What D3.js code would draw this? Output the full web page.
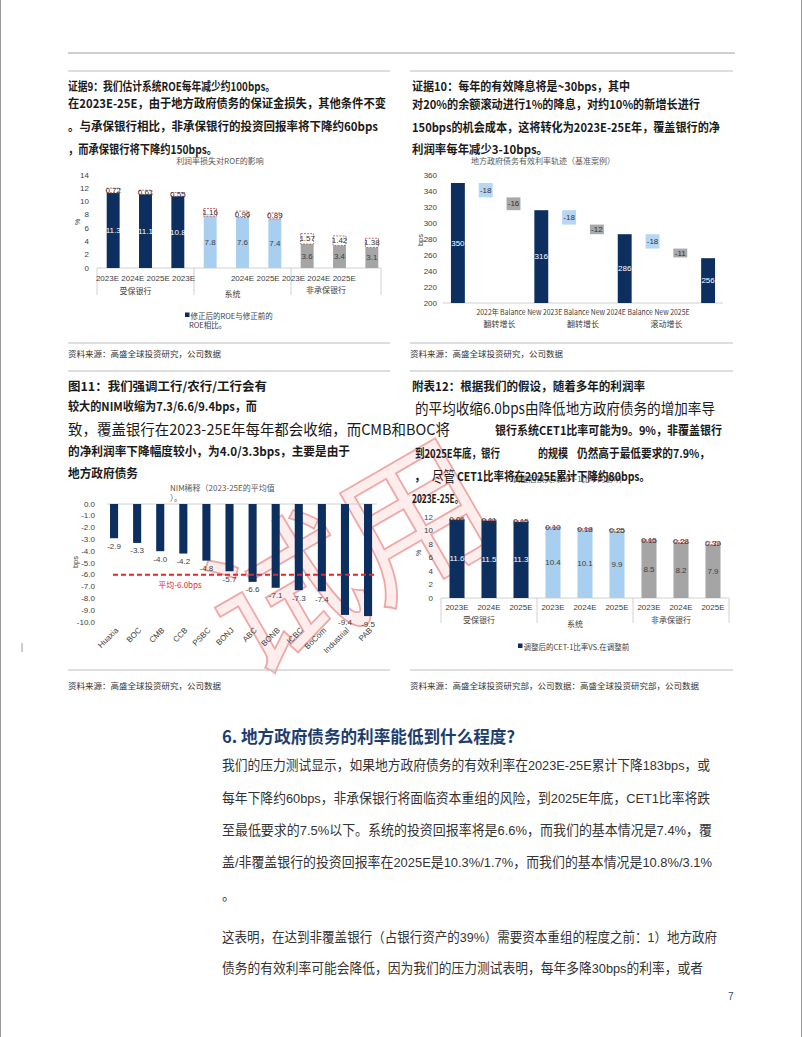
<!DOCTYPE html>
<html>
<head>
<meta charset="utf-8">
<script src="https://cdn.jsdelivr.net/npm/d3@7"></script>
<style>
  body { margin: 0; background: #fff; }
  svg { display: block; }
</style>
</head>
<body>
<script>
// ---- chart data ----
const groups = ["受保银行", "系统", "非承保银行"];
const years = ["2023E", "2024E", "2025E", "2023E", "2024E", "2025E", "2023E", "2024E", "2025E"];

// ROE impact (%)
const roeAdjusted = [11.3, 11.1, 10.8, 7.8, 7.6, 7.4, 3.6, 3.4, 3.1];
const roeLoss = [0.72, 0.61, 0.55, 1.16, 0.96, 0.89, 1.57, 1.42, 1.38];

// effective rate waterfall (bps)
const rateCats = ["2022年", "Balance", "New", "2023E", "Balance", "New", "2024E", "Balance", "New", "2025E"];
const rateValues = [350, -18, -16, 316, -18, -12, 286, -18, -11, 256];
const rateKinds = ["total", "balance", "new", "total", "balance", "new", "total", "balance", "new", "total"];
const rateGroups = ["翻转增长", "翻转增长", "滚动增长"];

// NIM dilution (bps)
const nimBanks = ["Huaxia", "BOC", "CMB", "CCB", "PSBC", "BONJ", "ABC", "BONB", "ICBC", "BoCom", "Industrial", "PAB"];
const nimValues = [-2.9, -3.3, -4.0, -4.2, -4.8, -5.7, -6.6, -7.1, -7.3, -7.4, -9.4, -9.5];
const nimAverage = -6.0;

// CET-1 impact (%)
const cetAdjusted = [11.6, 11.5, 11.3, 10.4, 10.1, 9.9, 8.5, 8.2, 7.9];
const cetLoss = [0.06, 0.11, 0.15, 0.10, 0.18, 0.25, 0.15, 0.28, 0.39];

const NAVY = "#0c2f5f", LIGHT = "#a9cff0", GREY = "#a5a5a5";
const groupColor = [NAVY, LIGHT, GREY];
const CJK = "'Noto Sans CJK SC', sans-serif";
const LAT = "'Liberation Sans', 'Noto Sans CJK SC', sans-serif";

const svg = d3.select("body").append("svg")
    .attr("width", 802).attr("height", 1037)
    .style("font-family", LAT);

function label(g, x, y, str, o = {}) {
  const t = g.append("text")
      .attr("x", x).attr("y", y)
      .attr("dominant-baseline", "central")
      .attr("font-size", o.size || 8)
      .attr("fill", o.fill || "#404040")
      .attr("text-anchor", o.anchor || "start")
      .text(str);
  if (o.bold) t.attr("font-weight", "bold");
  if (o.width) t.attr("textLength", o.width).attr("lengthAdjust", "spacingAndGlyphs");
  if (o.family) t.style("font-family", o.family);
  return t;
}

function rule(x1, x2, y, color = "#bdbdbd") {
  svg.append("line").attr("x1", x1).attr("x2", x2).attr("y1", y).attr("y2", y)
      .attr("stroke", color).attr("stroke-width", 1);
}

// ---- watermark (behind everything) ----
svg.append("text")
    .attr("transform", "translate(345,548) rotate(-30)")
    .attr("text-anchor", "middle").attr("dominant-baseline", "central")
    .style("font-family", CJK).attr("font-size", 150)
    .attr("fill", "#fbdede").attr("fill-opacity", 0.55)
    .attr("stroke", "#e04848").attr("stroke-width", 1.8).attr("stroke-opacity", 0.45)
    .text("试用");

// page frame + rules
svg.append("line").attr("x1", 0.5).attr("x2", 0.5).attr("y1", 0).attr("y2", 1037).attr("stroke", "#9a9a9a");
svg.append("line").attr("x1", 801.5).attr("x2", 801.5).attr("y1", 0).attr("y2", 1037).attr("stroke", "#9a9a9a");
rule(68, 735, 53, "#a0a0a0");
[71, 343, 371, 670].forEach(y => { rule(68, 390, y); rule(410, 733, y); });
svg.append("line").attr("x1", 22).attr("x2", 22).attr("y1", 643).attr("y2", 652).attr("stroke", "#999");

// ---- titles ----
const T = svg.append("g");
const bold = (x, y, s, w) => label(T, x, y, s, {size: 12, bold: true, fill: "#1a1a1a", family: CJK, width: w});
const big = (x, y, s, w) => label(T, x, y, s, {size: 15, fill: "#1a1a1a", family: CJK, width: w});

bold(68, 85, "证据9：我们估计系统ROE每年减少约100bps。", 207);
bold(68, 102, "在2023E-25E，由于地方政府债务的保证金损失，其他条件不变", 318);
bold(68, 125, "。与承保银行相比，非承保银行的投资回报率将下降约60bps", 310);
bold(68, 148, "，而承保银行将下降约150bps。", 149);

bold(412, 85, "证据10：每年的有效降息将是~30bps，其中", 218);
bold(412, 103, "对20%的余额滚动进行1%的降息，对约10%的新增长进行", 288);
bold(412, 126, "150bps的机会成本，这将转化为2023E-25E年，覆盖银行的净", 308);
bold(412, 148, "利润率每年减少3-10bps。", 136);

bold(68, 385, "图11：我们强调工行/农行/工行会有", 199);
bold(68, 405, "较大的NIM收缩为7.3/6.6/9.4bps，而", 189);
big(68, 428, "致，覆盖银行在2023-25E年每年都会收缩，而CMB和BOC将", 382);
bold(68, 450, "的净利润率下降幅度较小，为4.0/3.3bps，主要是由于", 282);
bold(68, 472, "地方政府债务", 70);

bold(412, 385, "附表12：根据我们的假设，随着多年的利润率", 233);
big(415, 407, "的平均收缩6.0bps由降低地方政府债务的增加率导", 300);
bold(495, 429, "银行系统CET1比率可能为9。9%，非覆盖银行", 227);
bold(415, 452, "到2025E年底，银行", 85);
bold(538, 452, "的规模", 30);
bold(577, 452, "仍然高于最低要求的7.9%，", 133);
label(T, 567, 478, "调整后损失对CET-1比率的影响", {size: 8, anchor: "middle", fill: "#595959", family: CJK});
bold(414, 475, "，");
big(432, 475, "尽管", 23);
bold(457, 475, "CET1比率将在2025E累计下降约80bps。", 193);
bold(412, 497, "2023E-25E。", 51);

// ---- stacked bar charts (ROE / CET-1) ----
function lossChart(o) {
  const g = svg.append("g");
  const x = d3.scaleBand().domain(d3.range(o.adj.length)).range(o.xr)
      .paddingInner(o.pad).paddingOuter(o.pad / 2);
  const y = d3.scaleLinear().domain([0, o.max]).range(o.yr);
  const gi = i => Math.floor(i / 3);

  if (o.title) label(g, o.title[0], o.title[1], o.title[2], {size: 8, anchor: "middle", fill: "#595959", family: CJK});

  y.ticks(o.max / 2).forEach(t => label(g, o.xr[0] - 8, y(t), t, {anchor: "end"}));
  label(g, 0, 0, "%", {size: 7}).attr("transform", `translate(${o.unitX},${o.unitY}) rotate(-90)`)
      .attr("text-anchor", "middle");

  g.append("line").attr("x1", o.xr[0]).attr("x2", o.axisEnd).attr("y1", y(0)).attr("y2", y(0))
      .attr("stroke", "#d0d0d0");
  // group separators
  const seps = [o.xr[0], (x(2) + x.bandwidth() + x(3)) / 2, (x(5) + x.bandwidth() + x(6)) / 2, o.axisEnd];
  seps.forEach(s => g.append("line").attr("x1", s).attr("x2", s)
      .attr("y1", y(0)).attr("y2", y(0) + o.sepLen).attr("stroke", "#d0d0d0"));

  g.selectAll("rect.bar").data(o.adj).join("rect").attr("class", "bar")
      .attr("x", (d, i) => x(i)).attr("width", x.bandwidth())
      .attr("y", d => y(d)).attr("height", d => y(0) - y(d))
      .attr("fill", (d, i) => groupColor[gi(i)]);

  g.selectAll("rect.loss").data(o.loss).join("rect").attr("class", "loss")
      .attr("x", (d, i) => x(i)).attr("width", x.bandwidth())
      .attr("y", (d, i) => y(o.adj[i] + d)).attr("height", (d, i) => y(o.adj[i]) - y(o.adj[i] + d))
      .attr("fill", "#fff").attr("stroke", "#b4424f").attr("stroke-width", 0.8)
      .attr("stroke-dasharray", "2,1.2");

  o.adj.forEach((d, i) => {
    const cx = x(i) + x.bandwidth() / 2;
    label(g, cx, y(d / 2), d.toFixed(1), {anchor: "middle", fill: gi(i) === 0 ? "#fff" : "#404040"});
    label(g, cx, (y(d) + y(d + o.loss[i])) / 2, o.loss[i].toFixed(2), {anchor: "middle", fill: "#333"});
  });

  o.xLabels(g, x);
  groups.forEach((s, k) => label(g, (seps[k] + seps[k + 1]) / 2 - 10, y(0) + o.groupDy[k], s,
      {anchor: "middle", family: CJK}));

  g.append("rect").attr("x", o.legend[0]).attr("y", o.legend[1] - 2.5).attr("width", 4.5).attr("height", 4.5)
      .attr("fill", NAVY);
  o.legend[2].forEach((s, k) => label(g, o.legend[0] + (k ? 4 : 5.5), o.legend[1] + k * 9, s,
      {size: 7.5, family: CJK, fill: "#404040"}));
}

lossChart({
  adj: roeAdjusted, loss: roeLoss, max: 14,
  xr: [97, 388], yr: [268, 175], pad: 0.6, axisEnd: 381, sepLen: 27,
  title: [220, 160, "利润率损失对ROE的影响"], unitX: 77, unitY: 222,
  groupDy: [22, 25, 21],
  legend: [185, 315, ["修正后的ROE与修正前的", "ROE相比。"]],
  xLabels: (g, x) => {
    const c = i => x(i) + x.bandwidth() / 2;
    label(g, c(1), 278, years.slice(0, 4).join(" "), {anchor: "middle"});
    label(g, c(4), 278, years[4], {anchor: "middle"});
    label(g, c(6) - 1, 278, years.slice(5).join(" "), {anchor: "middle"});
  }
});

lossChart({
  adj: cetAdjusted, loss: cetLoss, max: 12,
  xr: [441, 729], yr: [598, 517], pad: 0.53, axisEnd: 729, sepLen: 25,
  title: null, unitX: 418, unitY: 553,
  groupDy: [21, 25, 21],
  legend: [518, 646, ["调整后的CET-1比率VS.在调整前"]],
  xLabels: (g, x) => years.forEach((s, i) =>
      label(g, x(i) + x.bandwidth() / 2, 607, s, {anchor: "middle"}))
});

// ---- waterfall chart ----
{
  const g = svg.append("g");
  const x = d3.scaleBand().domain(d3.range(rateCats.length)).range([444, 722]).paddingInner(0.5).paddingOuter(0.25);
  const y = d3.scaleLinear().domain([200, 360]).range([303, 175]);
  label(g, 543, 160, "地方政府债务有效利率轨迹（基准案例）", {anchor: "middle", fill: "#595959", family: CJK});
  y.ticks(8).forEach(t => label(g, 437, y(t), t, {anchor: "end"}));
  label(g, 0, 0, "bps", {size: 7.5}).attr("transform", "translate(420,240) rotate(-90)").attr("text-anchor", "middle");
  g.append("line").attr("x1", 443).attr("x2", 723).attr("y1", y(200)).attr("y2", y(200)).attr("stroke", "#d0d0d0");

  let level = 0;
  rateValues.forEach((v, i) => {
    const cx = x(i) + x.bandwidth() / 2;
    if (rateKinds[i] === "total") {
      level = v;
      g.append("rect").attr("x", x(i)).attr("width", x.bandwidth())
          .attr("y", y(v)).attr("height", y(200) - y(v)).attr("fill", NAVY);
      label(g, cx, y((v + 200) / 2), v, {anchor: "middle", fill: "#fff"});
    } else {
      const top = level, bot = level + v;
      g.append("rect").attr("x", x(i)).attr("width", x.bandwidth())
          .attr("y", y(top)).attr("height", y(bot) - y(top))
          .attr("fill", rateKinds[i] === "balance" ? "#b5d7f3" : "#a8a8a8");
      label(g, cx, y((top + bot) / 2), v, {anchor: "middle", fill: "#333"});
      level = bot;
    }
  });
  label(g, 583, 311, rateCats.join(" "), {anchor: "middle", family: CJK, width: 213});
  rateGroups.forEach((s, k) => {
    const cx = (x(1 + 3 * k) + x(2 + 3 * k) + x.bandwidth()) / 2;
    label(g, cx, 323, s, {anchor: "middle", family: CJK});
  });
}

// ---- NIM dilution chart ----
{
  const g = svg.append("g");
  const x = d3.scaleBand().domain(nimBanks).range([102.5, 379.6]).paddingInner(0.65).paddingOuter(0.325);
  const y = d3.scaleLinear().domain([0, -10]).range([504, 622]);
  label(g, 170, 487, "NIM稀释（2023-25E的平均值", {fill: "#595959", family: CJK});
  label(g, 170, 497, "）。", {fill: "#595959", family: CJK});
  y.ticks(10).forEach(t => label(g, 95, y(t), t.toFixed(1), {anchor: "end"}));
  label(g, 0, 0, "bps", {size: 7.5}).attr("transform", "translate(75,562) rotate(-90)").attr("text-anchor", "middle");
  g.append("line").attr("x1", 107).attr("x2", 377).attr("y1", y(0)).attr("y2", y(0)).attr("stroke", "#d0d0d0");

  g.selectAll("rect").data(nimValues).join("rect")
      .attr("x", (d, i) => x(nimBanks[i])).attr("width", x.bandwidth())
      .attr("y", y(0)).attr("height", d => y(d) - y(0)).attr("fill", NAVY);

  g.append("line").attr("x1", 113).attr("x2", 377).attr("y1", y(nimAverage)).attr("y2", y(nimAverage))
      .attr("stroke", "#e3262b").attr("stroke-width", 2).attr("stroke-dasharray", "5,3");
  label(g, 180, y(nimAverage) + 10, `平均${nimAverage.toFixed(1)}bps`, {anchor: "middle", fill: "#e3262b", family: CJK});

  nimValues.forEach((v, i) => {
    const cx = x(nimBanks[i]) + x.bandwidth() / 2;
    label(g, cx, y(v) + 8, v.toFixed(1), {anchor: "middle"});
    label(g, 0, 0, nimBanks[i], {anchor: "end"})
        .attr("transform", `translate(${cx + 3},${629}) rotate(-45)`);
  });
}

// ---- sources ----
label(svg, 68, 353, "资料来源：高盛全球投资研究，公司数据", {size: 8.5, family: CJK, fill: "#333"});
label(svg, 410, 353, "资料来源：高盛全球投资研究，公司数据", {size: 8.5, family: CJK, fill: "#333"});
label(svg, 68, 685, "资料来源：高盛全球投资研究，公司数据", {size: 8.5, family: CJK, fill: "#333"});
label(svg, 410, 685, "资料来源：高盛全球投资研究部，公司数据：高盛全球投资研究部，公司数据", {size: 8.5, family: CJK, fill: "#333"});

// ---- section 6 text ----
label(svg, 222, 735, "6. 地方政府债务的利率能低到什么程度?", {size: 17, bold: true, fill: "#1c3d6e", family: CJK, width: 293});
const para = [
  ["我们的压力测试显示，如果地方政府债务的有效利率在2023E-25E累计下降183bps，或", 765, 488],
  ["每年下降约60bps，非承保银行将面临资本重组的风险，到2025E年底，CET1比率将跌", 798, 488],
  ["至最低要求的7.5%以下。系统的投资回报率将是6.6%，而我们的基本情况是7.4%，覆", 830, 490],
  ["盖/非覆盖银行的投资回报率在2025E是10.3%/1.7%，而我们的基本情况是10.8%/3.1%", 862, 490],
  ["。", 895, null],
  ["这表明，在达到非覆盖银行（占银行资产的39%）需要资本重组的程度之前：1）地方政府", 937, 495],
  ["债务的有效利率可能会降低，因为我们的压力测试表明，每年多降30bps的利率，或者", 968, 481]
];
para.forEach(([s, yy, w]) => label(svg, 222, yy, s, {size: 13.5, fill: "#333", width: w || undefined}));
label(svg, 728, 996, "7", {size: 10, fill: "#1f4e79"});
</script>
</body>
</html>
